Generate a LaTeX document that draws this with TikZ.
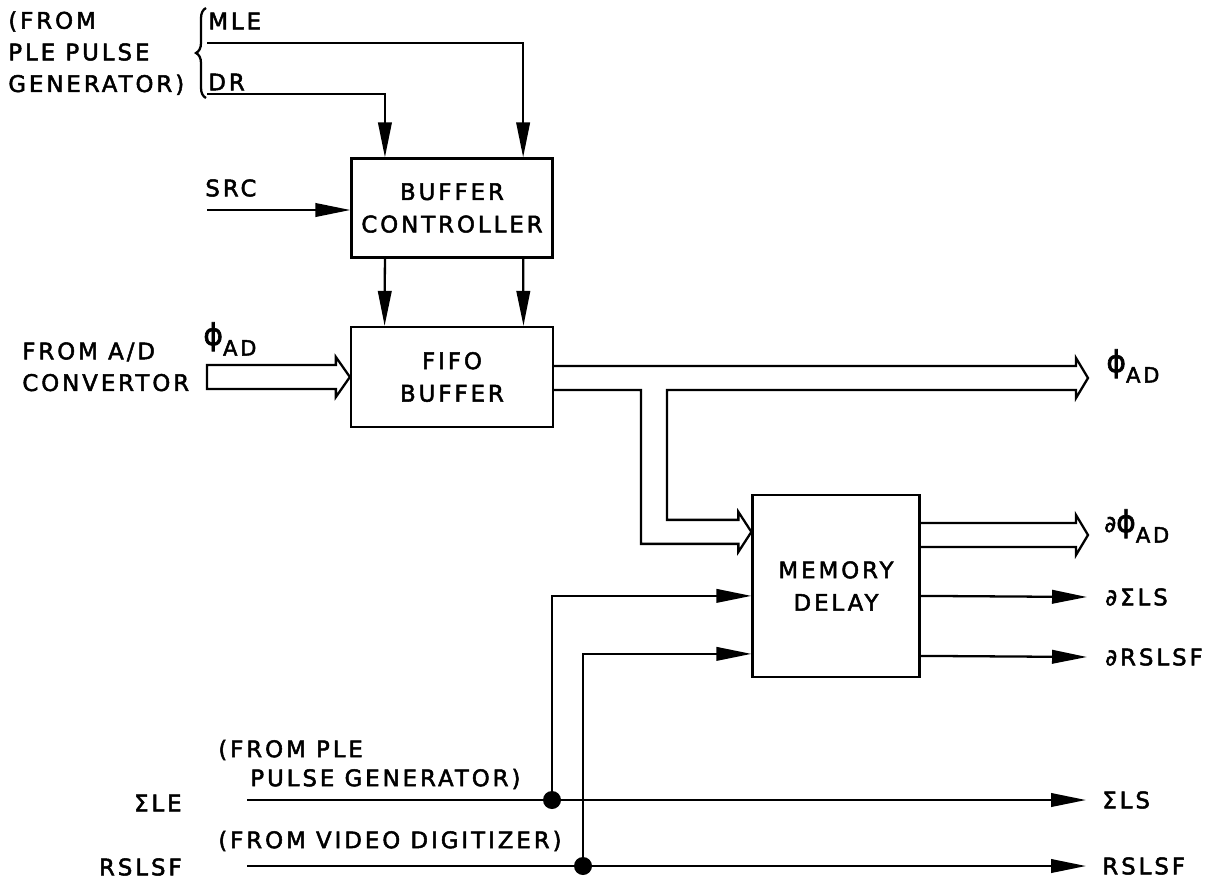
\documentclass[tikz,border=0pt]{standalone}
\usepackage{fontspec}
\setmainfont{DejaVu Sans}[LetterSpace=13, FakeBold=2.2]
\usetikzlibrary{arrows.meta,calc,decorations.pathreplacing}
\newcommand{\sbs}[1]{\raisebox{-6pt}{\fontsize{12}{12}\selectfont #1}}
\newcommand{\bigphi}{{\fontsize{17}{17}\selectfont ϕ}}

\tikzset{
  wire/.style={line width=1.3pt},
  sig/.style={wire, -{Triangle[length=0.7cm,width=0.27cm]}},
  blk/.style={draw, line width=1.3pt, align=center, inner sep=0pt, font=\fontsize{13}{18.5}\selectfont},
  lbl/.style={inner sep=0pt, align=left, font=\fontsize{13}{18}\selectfont},
  dot/.style={circle, fill, inner sep=0pt, minimum size=0.36cm},
}

\begin{document}
\begin{tikzpicture}[x=0.02cm, y=-0.02cm]
\useasboundingbox (0,0) rectangle (1226,883);
% blocks
\node[blk, minimum width=4.02cm, minimum height=1.98cm] (bc) at (452,208) {BUFFER\\CONTROLLER};
\node[blk, minimum width=4.04cm, minimum height=2cm] (fifo) at (452,377) {FIFO\\BUFFER};
\node[blk, minimum width=3.34cm, minimum height=3.64cm] (md) at (836,586) {MEMORY\\DELAY};

% inputs at the top
\node[lbl, anchor=north west] (ple) at (8,11) {(FROM\\PLE PULSE\\GENERATOR)};
\node[lbl, anchor=west] (mle) at (208,21) {MLE};
\node[lbl, anchor=west] (dr) at (208,82) {DR};
\draw[decorate, decoration={brace, amplitude=0.2cm}, line width=1.3pt] (206,98) -- (206,8);
\coordinate (mlein) at (207,43);
\coordinate (drin) at (207,94);
\draw[sig] (mlein) -| ($(bc.north west)!0.85!(bc.north east)$);
\draw[sig] (drin) -| ($(bc.north west)!0.17!(bc.north east)$);
\node[lbl, anchor=west] (src) at (205,188) {SRC};
\coordinate (srcin) at (207,210);
\draw[sig] (srcin) -- (bc.west |- srcin);
\draw[sig] ($(bc.south west)!0.17!(bc.south east)$) -- ($(fifo.north west)!0.17!(fifo.north east)$);
\draw[sig] ($(bc.south west)!0.85!(bc.south east)$) -- ($(fifo.north west)!0.85!(fifo.north east)$);

% data from the A/D convertor
\node[lbl, anchor=north west] (adc) at (22,342) {FROM A/D\\CONVERTOR};
\node[lbl, anchor=base west] (phiin) at (203,345) {\bigphi\sbs{AD}};
\coordinate (adin) at (207,365);
\draw[wire] (adin) -- ($(fifo.west)+(-14,-12)$) -- ($(fifo.west)+(-14,-20)$) -- (fifo.west)
  -- ($(fifo.west)+(-14,20)$) -- ($(fifo.west)+(-14,12)$) -- ($(adin)+(0,24)$) -- cycle;

% buffer output, split into the delay
\coordinate (phitip) at (1088,378);
\coordinate (tapL) at (641,390);
\coordinate (tapR) at (667,390);
\coordinate (mdtip) at ($(md.north west)+(0,38)$);
\node[lbl, anchor=base west] (phiout) at (1106,372) {\bigphi\sbs{AD}};
\draw[wire] ($(fifo.east |- phitip)+(0,-12)$) -- ($(phitip)+(-12,-12)$) -- ($(phitip)+(-12,-20)$) -- (phitip)
  -- ($(phitip)+(-12,20)$) -- ($(phitip)+(-12,12)$) -- (tapR) |- ($(mdtip)+(-13,-12)$)
  -- ($(mdtip)+(-13,-20)$) -- (mdtip) -- ($(mdtip)+(-13,20)$) -- ($(mdtip)+(-13,12)$) -| (tapL) -- (fifo.east |- tapL);

% delay outputs
\coordinate (dtip) at (1088,535);
\node[lbl, anchor=base west] (dphi) at (1104,532) {∂\bigphi\sbs{AD}};
\draw[wire] ($(md.east |- dtip)+(0,-12)$) -- ($(dtip)+(-12,-12)$) -- ($(dtip)+(-12,-20)$) -- (dtip)
  -- ($(dtip)+(-12,20)$) -- ($(dtip)+(-12,12)$) -- ($(md.east |- dtip)+(0,12)$);
\node[lbl, anchor=west] (dsls) at (1105,597) {∂ΣLS};
\node[lbl, anchor=west] (drs) at (1105,657) {∂RSLSF};
\draw[sig] ($(md.north east)+(0,102)$) -- ($(dsls.west)+(-18,0)$);
\draw[sig] ($(md.north east)+(0,162)$) -- ($(drs.west)+(-18,0)$);

% pulse lines at the bottom
\node[lbl, anchor=west] (fple) at (218,750) {(FROM PLE};
\node[lbl, anchor=west] (fpg) at (250,779) {PULSE GENERATOR)};
\node[lbl, anchor=west] (fvd) at (218,841) {(FROM VIDEO DIGITIZER)};
\node[lbl, anchor=east] (sle) at (182,803) {ΣLE};
\node[lbl, anchor=east] (rsi) at (182,867) {RSLSF};
\node[lbl, anchor=west] (sls) at (1102,800) {ΣLS};
\node[lbl, anchor=west] (rso) at (1102,866) {RSLSF};
\coordinate (slein) at (247,800);
\coordinate (rsin) at (247,866);
\draw[sig] (slein) -- ($(sls.west)+(-16,0)$);
\draw[sig] (rsin) -- ($(rso.west)+(-16,0)$);
\node[dot] (j1) at (552,800) {};
\node[dot] (j2) at (583,866) {};
\draw[sig] (j1.center) |- ($(md.north west)+(0,102)$);
\draw[sig] (j2.center) |- ($(md.north west)+(0,160)$);
\end{tikzpicture}
\end{document}
